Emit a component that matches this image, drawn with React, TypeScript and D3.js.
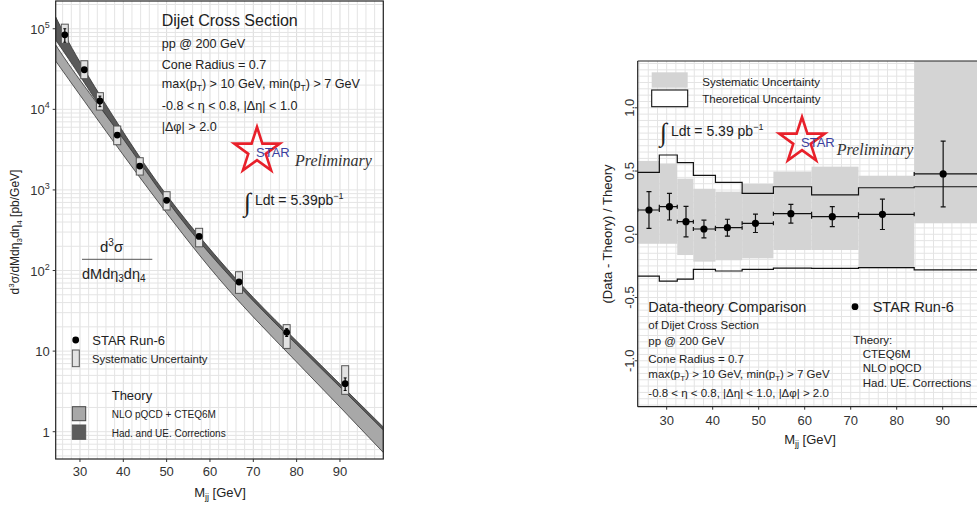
import React from 'react';
import * as d3 from 'd3';

// left panel: cross section data
const xsMass = [26.5, 31.0, 34.6, 38.6, 43.8, 50.0, 57.5, 66.7, 77.7, 91.2];
const xsValue = [84000, 31000, 12700, 4800, 1980, 743, 265, 72, 17.1, 3.95];
const xsStat = [16000, 2000, 1900, 300, 100, 40, 15, 5, 1.9, 0.7];
const xsSysHi = [114000, 40100, 16100, 6210, 2510, 951, 334, 96.6, 21.3, 6.59];
const xsSysLo = [65900, 24000, 9800, 3640, 1530, 564, 197, 52.1, 10.8, 2.91];

// theory bands
const bandMass = [24.4, 30, 40, 50, 60, 70, 80, 90, 100];
const corrHi = [139700, 38630, 5228, 864.6, 184.8, 46.2, 13.35, 3.906, 1.144];
const corrLo = [72400, 25890, 3929, 687.9, 147.1, 38.41, 11.24, 3.386, 1.02];
const nloHi = [62800, 23090, 4280, 749.4, 160.2, 41.84, 12.08, 3.586, 1.05];
const nloLo = [39740, 15040, 2710, 516.9, 107.4, 26.5, 7.32, 2.026, 0.552];

const xTicks = [30, 40, 50, 60, 70, 80, 90];
const yLogTicks = [1, 10, 100, 1000, 10000, 100000];

// right panel: ratio
const binEdges = [23.7, 28.4, 32.3, 35.8, 40.6, 46.4, 53.2, 61.5, 71.7, 83.8, 100];
const ratioMass = [26.15, 30.6, 34.2, 38.1, 43.2, 49.3, 57.0, 66.0, 76.9, 90.1];
const ratioValue = [0.192, 0.218, 0.10, 0.042, 0.052, 0.087, 0.163, 0.139, 0.158, 0.477];
const ratioErr = [0.145, 0.105, 0.12, 0.07, 0.067, 0.073, 0.074, 0.079, 0.12, 0.26];
const sysHi = [0.58, 0.56, 0.44, 0.36, 0.337, 0.398, 0.495, 0.535, 0.463, 1.5];
const sysLo = [-0.075, -0.075, -0.164, -0.216, -0.205, -0.19, -0.124, -0.124, -0.269, 0.087];
const theoHi = [0.49, 0.627, 0.566, 0.466, 0.411, 0.324, 0.376, 0.311, 0.368, 0.376];
const theoLo = [-0.33, -0.37, -0.355, -0.277, -0.29, -0.277, -0.268, -0.27, -0.264, -0.282];
const ratioTicks = [-1.0, -0.5, 0.0, 0.5, 1.0];

const SANS = 'Liberation Sans, Arial, sans-serif';
const SERIF = 'Liberation Serif, Times New Roman, serif';
const GRID = '#e4e4e4';

function Star({ cx, cy, r, fs }: { cx: number; cy: number; r: number; fs: number }) {
  const path = d3.symbol(d3.symbolStar, (r * r) / 0.8908130915292852)();
  return (
    <g>
      <path d={path || ''} transform={`translate(${cx},${cy})`} fill="none" stroke="#e8202a" strokeWidth={2.6} strokeLinejoin="miter" />
      <text x={cx - 1} y={cy + 6} fontFamily={SANS} fontSize={fs} fill="#3b3fa0">STAR</text>
    </g>
  );
}

function LeftPanel() {
  const x = d3.scaleLinear().domain([24.4, 100]).range([55.7, 383.3]);
  const y = d3.scaleLog().domain([0.4585, 2.21e5]).range([459, 1]);
  const [x0, x1] = x.range();
  const [y0, y1] = y.range();

  const vGrid = d3.range(24, 101, 2);
  const hGrid: number[] = [];
  for (let e = -1; e <= 5; e++) for (let k = 1; k <= 9; k++) {
    const v = k * Math.pow(10, e);
    if (v > 0.4585 && v < 2.21e5) hGrid.push(v);
  }

  const idx = d3.range(bandMass.length);
  const curve = d3.curveNatural;
  const corrArea = d3.area<number>().x(i => x(bandMass[i])).y0(i => y(corrLo[i])).y1(i => y(corrHi[i])).curve(curve);
  const nloArea = d3.area<number>().x(i => x(bandMass[i])).y0(i => y(nloLo[i])).y1(i => y(nloHi[i])).curve(curve);

  const sup = (n: number) => {
    const e = Math.round(Math.log10(n));
    if (e === 0) return '1';
    if (e === 1) return '10';
    return null;
  };

  return (
    <g>
      <defs>
        <clipPath id="clipL"><rect x={x0} y={y1} width={x1 - x0} height={y0 - y1} /></clipPath>
      </defs>
      <rect x={x0} y={y1} width={x1 - x0} height={y0 - y1} fill="#fff" />
      <g clipPath="url(#clipL)">
        {vGrid.map(v => <line key={'v' + v} x1={x(v)} x2={x(v)} y1={y1} y2={y0} stroke={v % 10 === 0 ? '#dadada' : GRID} strokeWidth={1} />)}
        {hGrid.map(v => <line key={'h' + v} x1={x0} x2={x1} y1={y(v)} y2={y(v)} stroke={GRID} strokeWidth={1} />)}
        <path d={corrArea(idx) || ''} fill="#5a5a5a" stroke="#333" strokeWidth={0.8} />
        <path d={nloArea(idx) || ''} fill="#a8a8a8" stroke="#333" strokeWidth={0.8} />
        {xsMass.map((m, i) => (
          <rect key={'s' + i} x={x(m) - 3.5} width={7} y={y(xsSysHi[i])} height={y(xsSysLo[i]) - y(xsSysHi[i])}
            fill="#e2e2e2" stroke="#555" strokeWidth={1} />
        ))}
        {xsMass.map((m, i) => (
          <g key={'p' + i}>
            <line x1={x(m)} x2={x(m)} y1={y(xsValue[i] + xsStat[i])} y2={y(xsValue[i] - xsStat[i])} stroke="#000" strokeWidth={1.2} />
            <line x1={x(m) - 1.5} x2={x(m) + 1.5} y1={y(xsValue[i] + xsStat[i])} y2={y(xsValue[i] + xsStat[i])} stroke="#000" />
            <line x1={x(m) - 1.5} x2={x(m) + 1.5} y1={y(xsValue[i] - xsStat[i])} y2={y(xsValue[i] - xsStat[i])} stroke="#000" />
            <circle cx={x(m)} cy={y(xsValue[i])} r={3.4} fill="#000" />
          </g>
        ))}
      </g>
      <rect x={x0} y={y1} width={x1 - x0} height={y0 - y1} fill="none" stroke="#222" strokeWidth={1.2} />

      {xTicks.map(t => (
        <g key={'xt' + t}>
          <line x1={x(t)} x2={x(t)} y1={y0} y2={y0 + 3} stroke="#333" />
          <text x={x(t)} y={y0 + 17} textAnchor="middle" fontFamily={SANS} fontSize={13} fill="#333">{t}</text>
        </g>
      ))}
      {yLogTicks.map(t => {
        const s = sup(t);
        return (
          <g key={'yt' + t}>
            <line x1={x0 - 3} x2={x0} y1={y(t)} y2={y(t)} stroke="#333" />
            <text x={x0 - 6} y={y(t) + 5} textAnchor="end" fontFamily={SANS} fontSize={13} fill="#333">
              {s ? s : <>10<tspan fontSize={9} dy={-6}>{Math.round(Math.log10(t))}</tspan></>}
            </text>
          </g>
        );
      })}

      <text x={220} y={497} textAnchor="middle" fontFamily={SANS} fontSize={13} fill="#222">
        M<tspan fontSize={9} dy={3}>jj</tspan><tspan dy={-3}> [GeV]</tspan>
      </text>
      <text transform="translate(19,232) rotate(-90)" textAnchor="middle" fontFamily={SANS} fontSize={12} fill="#222">
        d<tspan fontSize={8} dy={-5}>3</tspan><tspan dy={5}>σ/dMdη</tspan><tspan fontSize={8} dy={3}>3</tspan>
        <tspan dy={-3}>dη</tspan><tspan fontSize={8} dy={3}>4</tspan><tspan dy={-3}> [pb/GeV]</tspan>
      </text>

      <g fontFamily={SANS} fill="#222">
        <text x={161.7} y={26} fontSize={16}>Dijet Cross Section</text>
        <text x={161.7} y={47.5} fontSize={12.6}>pp @ 200 GeV</text>
        <text x={161.7} y={68.5} fontSize={12.6}>Cone Radius = 0.7</text>
        <text x={161.7} y={87.5} fontSize={12.6}>
          max(p<tspan fontSize={8.5} dy={3}>T</tspan><tspan dy={-3}>) &gt; 10 GeV, min(p</tspan><tspan fontSize={8.5} dy={3}>T</tspan><tspan dy={-3}>) &gt; 7 GeV</tspan>
        </text>
        <text x={161.7} y={110} fontSize={12.6}>-0.8 &lt; η &lt; 0.8, |Δη| &lt; 1.0</text>
        <text x={161.7} y={131} fontSize={12.6}>|Δφ| &gt; 2.0</text>
      </g>

      <Star cx={257} cy={151} r={24} fs={13} />
      <text x={295} y={166} fontFamily={SERIF} fontStyle="italic" fontSize={16} fill="#333">Preliminary</text>

      <text x={244} y={211} fontFamily={SERIF} fontSize={26} fill="#222">∫</text>
      <text x={255} y={205} fontFamily={SANS} fontSize={14} fill="#222">
        Ldt = 5.39pb<tspan fontSize={9} dy={-6}>−1</tspan>
      </text>

      <text x={100} y={252} fontFamily={SANS} fontSize={15} fill="#222">
        d<tspan fontSize={10} dy={-6}>3</tspan><tspan dy={6}>σ</tspan>
      </text>
      <line x1={82} x2={152.3} y1={259.3} y2={259.3} stroke="#555" strokeWidth={1} />
      <text x={82} y={279} fontFamily={SANS} fontSize={14.5} fill="#222">
        dMdη<tspan fontSize={10} dy={3}>3</tspan><tspan dy={-3}>dη</tspan><tspan fontSize={10} dy={3}>4</tspan>
      </text>

      <circle cx={75.7} cy={340} r={3.4} fill="#000" />
      <text x={92.3} y={344.5} fontFamily={SANS} fontSize={13} fill="#222">STAR Run-6</text>
      <rect x={72.3} y={350} width={7} height={16.7} fill="#e2e2e2" stroke="#555" />
      <text x={92} y={363} fontFamily={SANS} fontSize={11.3} fill="#222">Systematic Uncertainty</text>
      <text x={111.7} y={400} fontFamily={SANS} fontSize={13} fill="#222">Theory</text>
      <rect x={72.3} y={406.7} width={13.4} height={14} fill="#a8a8a8" stroke="#444" />
      <text x={111.7} y={418} fontFamily={SANS} fontSize={10} fill="#222">NLO pQCD + CTEQ6M</text>
      <rect x={72.3} y={425} width={13.4} height={14.3} fill="#5c5c5c" stroke="#555" />
      <text x={111.7} y={436.5} fontFamily={SANS} fontSize={10} fill="#222">Had. and UE. Corrections</text>
    </g>
  );
}

function RightPanel() {
  const x = d3.scaleLinear().domain([23.7, 100]).range([637.7, 988.7]);
  const y = d3.scaleLinear().domain([-1.363, 1.37]).range([406.7, 61]);
  const [x0, x1] = x.range();
  const [y0, y1] = y.range();

  const vGrid = d3.range(24, 101, 2);
  const hGrid = d3.range(-27, 28).map(k => k * 0.05);

  const stepPts = (vals: number[]) => binEdges.map((e, i) => [e, vals[Math.min(i, vals.length - 1)]] as [number, number]);
  const step = d3.line<[number, number]>().x(d => x(d[0])).y(d => y(d[1])).curve(d3.curveStepAfter);

  return (
    <g>
      <defs>
        <clipPath id="clipR"><rect x={x0} y={y1} width={x1 - x0} height={y0 - y1} /></clipPath>
      </defs>
      <rect x={x0} y={y1} width={x1 - x0} height={y0 - y1} fill="#fff" />
      <g clipPath="url(#clipR)">
        {vGrid.map(v => <line key={'v' + v} x1={x(v)} x2={x(v)} y1={y1} y2={y0} stroke={GRID} />)}
        {hGrid.map((v, i) => <line key={'h' + i} x1={x0} x2={x1} y1={y(v)} y2={y(v)} stroke={GRID} />)}
        {sysHi.map((h, i) => (
          <rect key={'sy' + i} x={x(binEdges[i])} width={x(binEdges[i + 1]) - x(binEdges[i])}
            y={y(h)} height={y(sysLo[i]) - y(h)} fill="#d4d4d4" />
        ))}
        <path d={step(stepPts(theoHi)) || ''} fill="none" stroke="#111" strokeWidth={1.2} />
        <path d={step(stepPts(theoLo)) || ''} fill="none" stroke="#111" strokeWidth={1.2} />
        {ratioMass.map((m, i) => {
          const cy = y(ratioValue[i]);
          const xa = x(binEdges[i]), xb = x(binEdges[i + 1]);
          const ya = y(ratioValue[i] + ratioErr[i]), yb = y(ratioValue[i] - ratioErr[i]);
          return (
            <g key={'rp' + i} stroke="#111" strokeWidth={1.2}>
              <line x1={xa} x2={xb} y1={cy} y2={cy} />
              <line x1={xa} x2={xa} y1={cy - 2} y2={cy + 2} />
              <line x1={xb} x2={xb} y1={cy - 2} y2={cy + 2} />
              <line x1={x(m)} x2={x(m)} y1={ya} y2={yb} />
              <line x1={x(m) - 2.5} x2={x(m) + 2.5} y1={ya} y2={ya} />
              <line x1={x(m) - 2.5} x2={x(m) + 2.5} y1={yb} y2={yb} />
              <circle cx={x(m)} cy={cy} r={3.6} fill="#000" stroke="none" />
            </g>
          );
        })}
      </g>
      <line x1={x0} x2={x1} y1={y1} y2={y1} stroke="#222" strokeWidth={1.2} />
      <line x1={x0} x2={x0} y1={y1} y2={y0} stroke="#222" strokeWidth={1.2} />
      <line x1={x0} x2={x1} y1={y0} y2={y0} stroke="#222" strokeWidth={1.2} />

      {xTicks.map(t => (
        <g key={'xt' + t}>
          <line x1={x(t)} x2={x(t)} y1={y0} y2={y0 + 3} stroke="#333" />
          <text x={x(t)} y={y0 + 18} textAnchor="middle" fontFamily={SANS} fontSize={13} fill="#333">{t}</text>
        </g>
      ))}
      {ratioTicks.map(t => (
        <g key={'yt' + t}>
          <line x1={x0 - 3} x2={x0} y1={y(t)} y2={y(t)} stroke="#333" />
          <text transform={`translate(${x0 - 4},${y(t)}) rotate(-90)`} textAnchor="middle" fontFamily={SANS} fontSize={13} fill="#333">
            {t.toFixed(1)}
          </text>
        </g>
      ))}

      <text x={810} y={444} textAnchor="middle" fontFamily={SANS} fontSize={13} fill="#222">
        M<tspan fontSize={9} dy={3}>jj</tspan><tspan dy={-3}> [GeV]</tspan>
      </text>
      <text transform="translate(612,234) rotate(-90)" textAnchor="middle" fontFamily={SANS} fontSize={13} fill="#222">
        (Data - Theory) / Theory
      </text>

      <rect x={651.7} y={72.3} width={36} height={15.4} fill="#d4d4d4" />
      <text x={702.3} y={85.5} fontFamily={SANS} fontSize={11.5} fill="#222">Systematic Uncertainty</text>
      <rect x={651.7} y={90} width={36} height={16.7} fill="#fff" stroke="#111" strokeWidth={1.1} />
      <text x={702.3} y={103} fontFamily={SANS} fontSize={11.5} fill="#222">Theoretical Uncertainty</text>

      <text x={660} y={141} fontFamily={SERIF} fontSize={26} fill="#222">∫</text>
      <text x={671} y={135.5} fontFamily={SANS} fontSize={14} fill="#222">
        Ldt = 5.39 pb<tspan fontSize={9} dy={-6}>−1</tspan>
      </text>
      <Star cx={802} cy={141} r={24} fs={13} />
      <text x={836.7} y={155} fontFamily={SERIF} fontStyle="italic" fontSize={16} fill="#333">Preliminary</text>

      <g fontFamily={SANS} fill="#222">
        <text x={648.3} y={312} fontSize={14.5}>Data-theory Comparison</text>
        <text x={648.3} y={328.5} fontSize={11.5}>of Dijet Cross Section</text>
        <text x={648.3} y={345} fontSize={11.5}>pp @ 200 GeV</text>
        <text x={648.3} y={362.5} fontSize={11.5}>Cone Radius = 0.7</text>
        <text x={648.3} y={377.5} fontSize={11.5}>
          max(p<tspan fontSize={8} dy={3}>T</tspan><tspan dy={-3}>) &gt; 10 GeV, min(p</tspan><tspan fontSize={8} dy={3}>T</tspan><tspan dy={-3}>) &gt; 7 GeV</tspan>
        </text>
        <text x={648.3} y={396.5} fontSize={11.5}>-0.8 &lt; η &lt; 0.8, |Δη| &lt; 1.0, |Δφ| &gt; 2.0</text>
        <circle cx={855} cy={306.7} r={3.4} fill="#000" />
        <text x={872.7} y={312} fontSize={14.5}>STAR Run-6</text>
        <text x={853.3} y={343.5} fontSize={11.5}>Theory:</text>
        <text x={862.7} y={357.5} fontSize={11.5}>CTEQ6M</text>
        <text x={862.7} y={372} fontSize={11.5}>NLO pQCD</text>
        <text x={862.7} y={387} fontSize={11.5}>Had. UE. Corrections</text>
      </g>
    </g>
  );
}

export default function App() {
  return (
    <div style={{ position: 'absolute', left: 0, top: 0 }}>
      <svg width={977} height={506} style={{ display: 'block', background: '#fff' }}>
        <LeftPanel />
        <RightPanel />
      </svg>
    </div>
  );
}
